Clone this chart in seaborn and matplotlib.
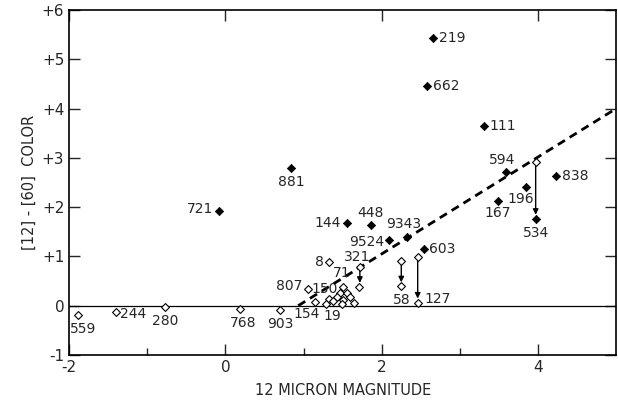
import numpy as np
import pandas as pd
import seaborn as sns
import matplotlib.pyplot as plt


# -----------------------------
# DATA
# -----------------------------
# solid diamonds
filled_names = ["219", "662", "111", "594", "838", "196", "167", "534",
                "881", "721", "144", "448", "9524", "9343", "603"]
filled_mag = [2.66, 2.58, 3.31, 3.59, 4.23, 3.85, 3.49, 3.97,
              0.84, -0.08, 1.55, 1.86, 2.09, 2.32, 2.54]
filled_color = [5.44, 4.46, 3.65, 2.71, 2.64, 2.41, 2.13, 1.76,
                2.80, 1.93, 1.68, 1.63, 1.34, 1.40, 1.16]

# open diamonds ("" = unlabelled)
open_names = ["559", "244", "280", "768", "903", "807", "8",
              "154", "", "19", "", "150", "", "", "", "", "", "", "",
              "321", "71", "", "58", "", "127", ""]
open_mag = [-1.89, -1.40, -0.77, 0.19, 0.70, 1.05, 1.33,
            1.15, 1.32, 1.29, 1.47, 1.51, 1.55, 1.43, 1.60, 1.51, 1.49, 1.65, 1.37,
            1.72, 1.71, 2.25, 2.25, 2.46, 2.46, 3.97]
open_color = [-0.18, -0.12, -0.02, -0.06, -0.08, 0.34, 0.89,
              0.08, 0.14, 0.04, 0.26, 0.37, 0.26, 0.18, 0.18, 0.12, 0.04, 0.06, 0.10,
              0.79, 0.38, 0.91, 0.39, 0.99, 0.06, 2.92]

# upper values shifted down (arrows)
arrow_mag = [1.72, 2.25, 2.46, 3.97]
arrow_top = [0.79, 0.91, 0.99, 2.92]
arrow_bottom = [0.38, 0.39, 0.06, 1.76]

# dashed relation
line_mag = [0.93, 5.0]
line_color = [0.0, 4.0]

# label placement: offset in points, ha, va
label_pos = {
    "219": (4, 0, "left", "center"), "662": (4, 0, "left", "center"),
    "111": (4, 0, "left", "center"), "594": (-3, 4, "center", "bottom"),
    "838": (4, 0, "left", "center"), "196": (-4, -4, "center", "top"),
    "167": (0, -4, "center", "top"), "534": (0, -5, "center", "top"),
    "881": (0, -5, "center", "top"), "721": (-4, 1, "right", "center"),
    "144": (-4, 0, "right", "center"), "448": (0, 4, "center", "bottom"),
    "9524": (-3, -2, "right", "center"), "9343": (-2, 4, "center", "bottom"),
    "603": (4, 0, "left", "center"),
    "559": (4, -5, "center", "top"), "244": (3, -2, "left", "center"),
    "280": (0, -5, "center", "top"), "768": (2, -5, "center", "top"),
    "903": (0, -5, "center", "top"), "807": (-4, 2, "right", "center"),
    "8": (-4, 0, "right", "center"), "150": (-4, -1, "right", "center"),
    "154": (-6, -4, "center", "top"), "19": (4, -4, "center", "top"),
    "321": (-2, 2, "center", "bottom"), "71": (-6, 10, "right", "center"),
    "58": (0, -5, "center", "top"), "127": (5, 3, "left", "center"),
}

filled = pd.DataFrame({"name": filled_names, "mag": filled_mag, "color": filled_color})
opened = pd.DataFrame({"name": open_names, "mag": open_mag, "color": open_color})
line = pd.DataFrame({"mag": line_mag, "color": line_color})


# -----------------------------
# STYLE
# -----------------------------
sns.set_style("white")
plt.rcParams["font.family"] = ["Liberation Sans Narrow", "DejaVu Sans"]

fig = plt.figure(figsize=(6.18, 4.0), dpi=100)
ax = fig.add_axes([0.112, 0.1125, 0.885, 0.8625])

# -----------------------------
# PLOT
# -----------------------------
ax.axhline(0, color="black", lw=0.9, zorder=1)

sns.lineplot(data=line, x="mag", y="color", ax=ax, color="black",
             lw=2.0, linestyle=(0, (3, 2)), zorder=2)

for xm, yt, yb in zip(arrow_mag, arrow_top, arrow_bottom):
    ax.annotate("", xy=(xm, yb), xytext=(xm, yt),
                arrowprops=dict(arrowstyle="-|>", color="black", lw=1.0,
                                mutation_scale=8, shrinkA=3, shrinkB=3),
                zorder=3)

sns.scatterplot(data=opened, x="mag", y="color", ax=ax, marker="D", s=16,
                facecolor="white", edgecolor="black", linewidth=0.8, zorder=4)
sns.scatterplot(data=filled, x="mag", y="color", ax=ax, marker="D", s=18,
                color="black", edgecolor="black", linewidth=0.5, zorder=5)

for df in (filled, opened):
    for _, row in df.iterrows():
        if not row["name"]:
            continue
        dx, dy, ha, va = label_pos[row["name"]]
        ax.annotate(row["name"], (row["mag"], row["color"]), xytext=(dx, dy),
                    textcoords="offset points", ha=ha, va=va, fontsize=10)

# -----------------------------
# AXES
# -----------------------------
ax.set_xlim(-2, 5)
ax.set_ylim(-1, 6)
ax.set_xticks([-2, 0, 2, 4])
ax.set_xticklabels(["-2", "0", "2", "4"])
ax.set_xticks([-1, 1, 3], minor=True)
ax.set_yticks(range(-1, 7))
ax.set_yticklabels(["-1", "0", "+1", "+2", "+3", "+4", "+5", "+6"])
ax.tick_params(axis="both", which="major", direction="in", length=8, width=1,
               labelsize=11, top=True, right=True, left=True, bottom=True)
ax.tick_params(axis="x", which="minor", direction="in", length=5, width=1,
               top=False, bottom=True)
for s in ax.spines.values():
    s.set_linewidth(1.2)
    s.set_color("black")

ax.set_xlabel("12 MICRON MAGNITUDE", fontsize=10.5, labelpad=6)
ax.set_ylabel("[12] - [60]  COLOR", fontsize=10.5, labelpad=4)

plt.savefig("out.png", dpi=100)
